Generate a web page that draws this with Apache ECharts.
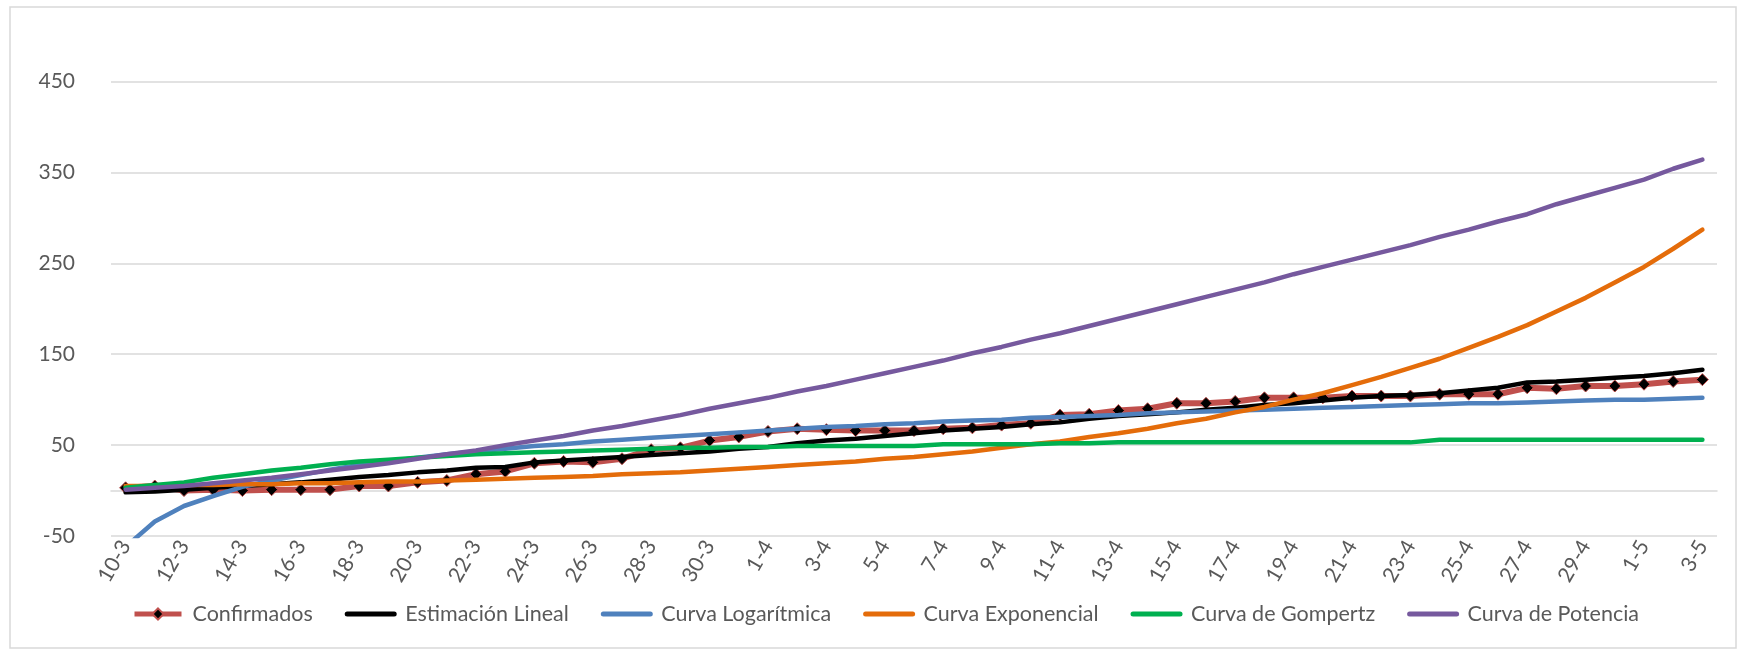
<!DOCTYPE html>
<html>
<head>
<meta charset="utf-8">
<script src="https://cdn.jsdelivr.net/npm/echarts@6/dist/echarts.min.js"></script>
<style>
html,body{margin:0;padding:0;background:#fff;}
#chart{width:1739px;height:650px;}
</style>
</head>
<body>
<div id="chart"></div>
<script>
const categories = ['10-3','11-3','12-3','13-3','14-3','15-3','16-3','17-3','18-3','19-3','20-3','21-3','22-3','23-3','24-3','25-3','26-3','27-3','28-3','29-3','30-3','31-3',
  '1-4','2-4','3-4','4-4','5-4','6-4','7-4','8-4','9-4','10-4','11-4','12-4','13-4','14-4','15-4','16-4','17-4','18-4','19-4','20-4','21-4','22-4','23-4','24-4','25-4','26-4','27-4','28-4','29-4','30-4',
  '1-5','2-5','3-5'];
const confirmados = [3,5,0,1,0,1,1,1,5,5,9,11,18,21,30,32,31,35,45,47,55,59,65,68,67,66,66,66,68,69,72,74,83,84,88,90,96,96,98,102,102,102,104,104,104,106,106,106,113,112,115,115,117,120,122];
const lineal = [-2,-1,1,3,5,7,9,12,15,17,20,22,25,26,31,33,35,37,39,41,43,46,48,52,55,57,60,63,66,68,70,73,75,79,82,84,86,89,91,94,96,99,102,104,105,107,110,113,119,120,122,124,126,129,133];
const logaritmica = [-62,-34,-17,-6,4,11,17,23,28,32,36,40,43,46,49,51,54,56,58,60,62,64,66,68,70,71,73,74,76,77,78,80,81,82,83,85,86,87,88,89,90,91,92,93,94,95,96,96,97,98,99,100,100,101,102];
const exponencial = [5,5,6,6,7,7,8,8,9,10,10,11,12,13,14,15,16,18,19,20,22,24,26,28,30,32,35,37,40,43,47,51,54,59,63,68,74,79,86,92,100,107,116,125,135,145,157,169,182,197,212,229,246,266,287];
const gompertz = [3,6,9,14,18,22,25,29,32,34,36,38,40,41,42,43,44,45,46,47,47,48,48,49,49,49,49,49,51,51,51,51,52,52,53,53,53,53,53,53,53,53,53,53,53,56,56,56,56,56,56,56,56,56,56];
const potencia = [1,3,5,8,11,14,18,22,26,30,35,40,44,50,55,60,66,71,77,83,90,96,102,109,115,122,129,136,143,151,158,166,173,181,189,197,205,213,221,229,238,246,254,262,270,279,287,296,304,315,324,333,342,354,364];
const seriesNames = ['Confirmados','Estimación Lineal','Curva Logarítmica','Curva Exponencial','Curva de Gompertz','Curva de Potencia'];
const yMin = -50, yMax = 450, yStep = 100;

const FONT = 'Lato';
const TXT = '#595959';
const GRIDC = '#d9d9d9';

const chart = echarts.init(document.getElementById('chart'), null, {renderer:'canvas'});
function lineSeries(name, data, color, width, z){
  return {name, type:'line', data, z, symbol:'none', smooth:false, clip:true,
    lineStyle:{color, width, cap:'round', join:'round'}, itemStyle:{color}};
}
const legendData = seriesNames.map((n, i) => i === 0 ? {name:n} : {name:n, itemStyle:{opacity:0}});
const option = {
  backgroundColor:'#ffffff',
  animation:false,
  textStyle:{fontFamily:FONT},
  graphic:[{type:'rect', shape:{x:10,y:7,width:1726,height:641}, style:{fill:'none', stroke:GRIDC, lineWidth:1.5}, silent:true, z:-1}],
  grid:{left:111, right:22, top:81.5, bottom:114, containLabel:false},
  legend:{
    left:127, top:598, itemWidth:47, itemHeight:14, itemGap:32,
    lineStyle:{width:5},
    textStyle:{color:TXT, fontSize:21.5, fontFamily:FONT, padding:[0,0,0,6]},
    data:legendData
  },
  xAxis:[{
    type:'category', data:categories, boundaryGap:true,
    axisLine:{show:false, onZero:false}, axisTick:{show:false},
    axisLabel:{interval:1, rotate:60, color:TXT, fontSize:21, fontFamily:FONT, margin:6},
    splitLine:{show:false}
  },{
    type:'category', data:categories, position:'bottom', boundaryGap:true,
    axisLine:{show:true, onZero:true, lineStyle:{color:GRIDC, width:1.5}},
    axisTick:{show:false}, axisLabel:{show:false}, splitLine:{show:false}
  }],
  yAxis:{
    type:'value', min:yMin, max:yMax, interval:yStep,
    axisLine:{show:false}, axisTick:{show:false},
    axisLabel:{color:TXT, fontSize:21, fontFamily:FONT, margin:36},
    splitLine:{show:true, lineStyle:{color:GRIDC, width:1.5}}
  },
  series:[
    {name:seriesNames[0], type:'line', data:confirmados, z:2, clip:true,
     symbol:'diamond', symbolSize:12, showAllSymbol:true,
     lineStyle:{color:'#C0504D', width:6, join:'round'},
     itemStyle:{color:'#000000', borderColor:'#C0504D', borderWidth:1}},
    lineSeries(seriesNames[1], lineal, '#000000', 4.5, 3),
    lineSeries(seriesNames[2], logaritmica, '#4F81BD', 4.5, 4),
    lineSeries(seriesNames[3], exponencial, '#E46C0A', 4.5, 5),
    lineSeries(seriesNames[4], gompertz, '#00B050', 4.5, 6),
    lineSeries(seriesNames[5], potencia, '#76599E', 4.5, 7)
  ]
};
chart.setOption(option);
</script>
</body>
</html>
